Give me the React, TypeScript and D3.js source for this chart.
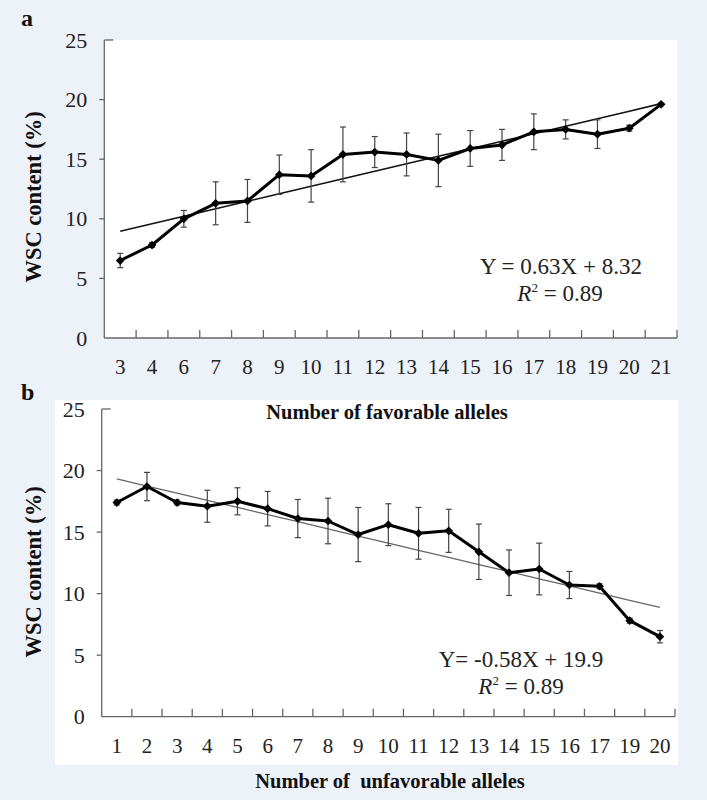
import React from "react";
import * as d3 from "d3";

// ---------- data ----------
const catsA = ["3","4","6","7","8","9","10","11","12","13","14","15","16","17","18","19","20","21"];
const meanA = [6.5, 7.8, 10.0, 11.3, 11.5, 13.7, 13.6, 15.4, 15.6, 15.4, 14.9, 15.9, 16.2, 17.3, 17.5, 17.1, 17.6, 19.6];
const errA  = [0.6, 0.2, 0.7, 1.8, 1.8, 1.65, 2.2, 2.3, 1.3, 1.8, 2.2, 1.5, 1.3, 1.5, 0.8, 1.2, 0.25, 0.1];
const fitA = [0.63, 8.32];

const catsB = ["1","2","3","4","5","6","7","8","9","10","11","12","13","14","15","16","17","19","20"];
const meanB = [17.4, 18.7, 17.4, 17.1, 17.5, 16.9, 16.1, 15.9, 14.8, 15.6, 14.9, 15.1, 13.4, 11.7, 12.0, 10.7, 10.6, 7.8, 6.5];
const errB  = [0.2, 1.15, 0.2, 1.3, 1.1, 1.4, 1.55, 1.85, 2.2, 1.7, 2.1, 1.75, 2.25, 1.85, 2.1, 1.1, 0.2, 0.2, 0.5];
const fitB = [-0.58, 19.9];

const yTicks = [0, 5, 10, 15, 20, 25];

const SERIF = "'Liberation Serif', 'Times New Roman', serif";
const AXIS = "#666";

type PanelProps = {
  cats: string[]; mean: number[]; err: number[]; fit: number[];
  x0: number; x1: number; yTop: number; yBot: number;
  labelY: number; fitColor: string; fitWidth: number;
  eq: string; eqX: number; eqY: number; r2X: number; r2Y: number;
};

function Panel(p: PanelProps) {
  const x = d3.scaleBand<string>().domain(p.cats).range([p.x0, p.x1]).paddingInner(0).paddingOuter(0);
  const y = d3.scaleLinear().domain([0, 25]).range([p.yBot, p.yTop]);
  const cx = (c: string) => (x(c) as number) + x.bandwidth() / 2;
  const line = d3.line<number>().x((_, i) => cx(p.cats[i])).y((d) => y(d));
  const n = p.cats.length;
  const fitLine = d3.line<number>().x((i) => cx(p.cats[i - 1])).y((i) => y(p.fit[0] * i + p.fit[1]));
  const diamond = d3.symbol().type(d3.symbolSquare).size(38)();
  const boundaries = p.cats.slice(1).map((c) => x(c) as number).concat([p.x1]);
  return (
    <g>
      {/* axes */}
      <line x1={p.x0} x2={p.x0} y1={p.yTop} y2={p.yBot} stroke={AXIS} strokeWidth={1.3} />
      <line x1={p.x0} x2={p.x1} y1={p.yBot} y2={p.yBot} stroke={AXIS} strokeWidth={1.3} />
      <line x1={p.x0} x2={p.x0 + 9} y1={p.yTop} y2={p.yTop} stroke={AXIS} strokeWidth={1.3} />
      {yTicks.map((t) => (
        <g key={t}>
          {t > 0 && t < 25 && <line x1={p.x0 - 5} x2={p.x0} y1={y(t)} y2={y(t)} stroke={AXIS} strokeWidth={1.3} />}
          <text x={p.x0 - 17} y={y(t) + 7.5} textAnchor="end" fontFamily={SERIF} fontSize={22} fill="#222">{t}</text>
        </g>
      ))}
      {boundaries.map((bx, i) => (
        <line key={i} x1={bx} x2={bx} y1={p.yBot} y2={p.yBot - 8} stroke={AXIS} strokeWidth={1.3} />
      ))}
      {p.cats.map((c) => (
        <text key={c} x={cx(c)} y={p.labelY} textAnchor="middle" fontFamily={SERIF} fontSize={21} fill="#222">{c}</text>
      ))}
      {/* fit */}
      <path d={fitLine(d3.range(1, n + 1)) || ""} fill="none" stroke={p.fitColor} strokeWidth={p.fitWidth} />
      {/* error bars */}
      {p.mean.map((m, i) => {
        const px = cx(p.cats[i]);
        const lo = y(m - p.err[i]);
        const hi = y(m + p.err[i]);
        return (
          <g key={i} stroke="#444" strokeWidth={1.2}>
            <line x1={px} x2={px} y1={lo} y2={hi} />
            <line x1={px - 3} x2={px + 3} y1={lo} y2={lo} />
            <line x1={px - 3} x2={px + 3} y1={hi} y2={hi} />
          </g>
        );
      })}
      <path d={line(p.mean) || ""} fill="none" stroke="#000" strokeWidth={3} strokeLinejoin="round" />
      {p.mean.map((m, i) => (
        <path key={i} d={diamond || ""} transform={`translate(${cx(p.cats[i])},${y(m)}) rotate(45)`} fill="#000" />
      ))}
      <text x={p.eqX} y={p.eqY} textAnchor="middle" fontFamily={SERIF} fontSize={23} fill="#222">{p.eq}</text>
      <text x={p.r2X} y={p.r2Y} textAnchor="middle" fontFamily={SERIF} fontSize={23} fill="#222">
        <tspan fontStyle="italic">R</tspan>
        <tspan fontSize={13} dy={-9}>2</tspan>
        <tspan dy={9}>{" = 0.89"}</tspan>
      </text>
    </g>
  );
}

export default function App() {
  return (
    <svg width={707} height={800} style={{ position: "absolute", left: 0, top: 0 }}>
      <rect x={0} y={0} width={707} height={800} fill="#edf1f8" />
      <rect x={104} y={40} width={573} height={298} fill="#fff" />
      <rect x={55} y={400} width={623} height={365} fill="#fff" />
      <text x={21} y={26} fontFamily={SERIF} fontWeight="bold" fontSize={24} fill="#111">a</text>
      <text x={21} y={400} fontFamily={SERIF} fontWeight="bold" fontSize={24} fill="#111">b</text>
      <Panel cats={catsA} mean={meanA} err={errA} fit={fitA}
        x0={104.3} x1={677} yTop={40} yBot={338} labelY={374}
        fitColor="#111" fitWidth={1.6}
        eq="Y = 0.63X + 8.32" eqX={561} eqY={274} r2X={560} r2Y={301} />
      <Panel cats={catsB} mean={meanB} err={errB} fit={fitB}
        x0={101.7} x1={675} yTop={409} yBot={716.7} labelY={753}
        fitColor="#666" fitWidth={1.3}
        eq="Y= -0.58X + 19.9" eqX={521} eqY={667} r2X={521} r2Y={694} />
      <text transform="translate(41,197) rotate(-90)" textAnchor="middle" fontFamily={SERIF} fontWeight="bold" fontSize={22.5} fill="#111">WSC content (%)</text>
      <text transform="translate(41,572) rotate(-90)" textAnchor="middle" fontFamily={SERIF} fontWeight="bold" fontSize={22.5} fill="#111">WSC content (%)</text>
      <text x={387} y={419} textAnchor="middle" fontFamily={SERIF} fontWeight="bold" fontSize={20.5} fill="#111">Number of favorable alleles</text>
      <text x={390} y={788} textAnchor="middle" fontFamily={SERIF} fontWeight="bold" fontSize={20.5} fill="#111" style={{ whiteSpace: "pre" }}>{"Number of  unfavorable alleles"}</text>
    </svg>
  );
}
